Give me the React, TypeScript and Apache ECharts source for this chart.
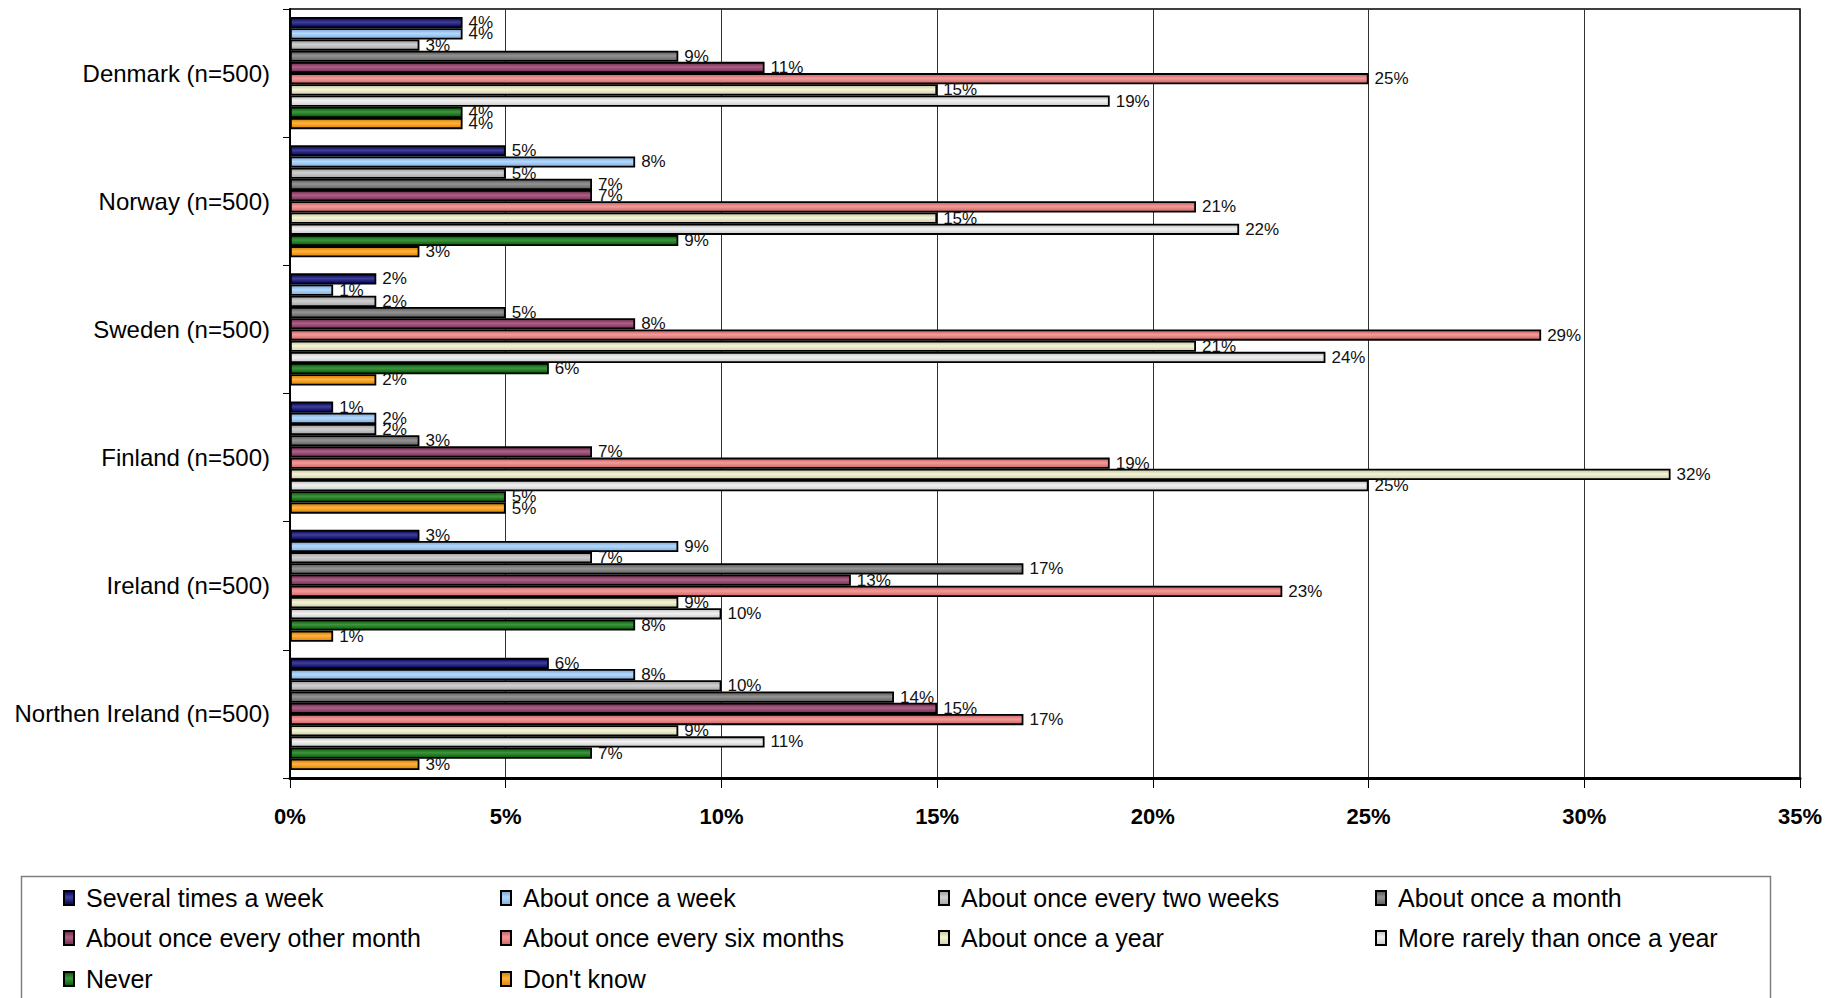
import React, { useEffect, useRef } from "react";
import * as echarts from "echarts";

const categories = [
  "Denmark (n=500)",
  "Norway (n=500)",
  "Sweden (n=500)",
  "Finland (n=500)",
  "Ireland (n=500)",
  "Northen Ireland (n=500)",
];

const seriesNames = [
  "Several times a week",
  "About once a week",
  "About once every two weeks",
  "About once a month",
  "About once every other month",
  "About once every six months",
  "About once a year",
  "More rarely than once a year",
  "Never",
  "Don't know",
];

const severalTimesAWeek = [4, 5, 2, 1, 3, 6];
const aboutOnceAWeek = [4, 8, 1, 2, 9, 8];
const aboutOnceEveryTwoWeeks = [3, 5, 2, 2, 7, 10];
const aboutOnceAMonth = [9, 7, 5, 3, 17, 14];
const aboutOnceEveryOtherMonth = [11, 7, 8, 7, 13, 15];
const aboutOnceEverySixMonths = [25, 21, 29, 19, 23, 17];
const aboutOnceAYear = [15, 15, 21, 32, 9, 9];
const moreRarelyThanOnceAYear = [19, 22, 24, 25, 10, 11];
const never = [4, 9, 6, 5, 8, 7];
const dontKnow = [4, 3, 2, 5, 1, 3];

const seriesValues = [
  severalTimesAWeek,
  aboutOnceAWeek,
  aboutOnceEveryTwoWeeks,
  aboutOnceAMonth,
  aboutOnceEveryOtherMonth,
  aboutOnceEverySixMonths,
  aboutOnceAYear,
  moreRarelyThanOnceAYear,
  never,
  dontKnow,
];

const colors = [
  "#000070",
  "#99CCFF",
  "#C0C0C0",
  "#707070",
  "#8E2F5E",
  "#F07878",
  "#F2F2C8",
  "#EEEEEE",
  "#007000",
  "#FF9900",
];

const xTicks = [0, 5, 10, 15, 20, 25, 30, 35];

// legend grid: 4 columns, rows filled left to right
const legendLefts = [58, 495, 933, 1370];
const legendTops = [880, 920, 961];

function shade(hex: string, f: number): string {
  const n = parseInt(hex.slice(1), 16);
  let r = (n >> 16) & 255,
    g = (n >> 8) & 255,
    b = n & 255;
  if (f >= 0) {
    r = Math.round(r + (255 - r) * f);
    g = Math.round(g + (255 - g) * f);
    b = Math.round(b + (255 - b) * f);
  } else {
    r = Math.round(r * (1 + f));
    g = Math.round(g * (1 + f));
    b = Math.round(b * (1 + f));
  }
  return `rgb(${r},${g},${b})`;
}

function grad(c: string) {
  return new echarts.graphic.LinearGradient(0, 0, 0, 1, [
    { offset: 0, color: shade(c, -0.2) },
    { offset: 0.45, color: shade(c, 0.25) },
    { offset: 1, color: shade(c, -0.15) },
  ]);
}

const FONT = "'Liberation Sans Narrow', 'Arial Narrow', 'Liberation Sans', Arial, sans-serif";

export default function App() {
  const ref = useRef<HTMLDivElement>(null);
  useEffect(() => {
    if (!ref.current) return;
    const chart = echarts.init(ref.current, null, { renderer: "svg" });
    const series = seriesNames.map((name, i) => ({
      name,
      type: "bar",
      data: seriesValues[i],
      barGap: "0%",
      barCategoryGap: "12.5%",
      itemStyle: { color: grad(colors[i]), borderColor: "#000", borderWidth: 1.8 },
      label: {
        show: true,
        position: "right",
        distance: 6,
        formatter: "{c}%",
        fontFamily: FONT,
        fontSize: 17,
        color: "#111",
      },
    }));
    const legends = seriesNames.map((name, i) => ({
      orient: "horizontal",
      left: legendLefts[i % 4],
      top: legendTops[Math.floor(i / 4)],
      itemWidth: 10,
      itemHeight: 14,
      icon: "rect",
      selectedMode: false,
      data: [name],
      textStyle: {
        fontFamily: FONT,
        fontSize: 25,
        lineHeight: 26,
        color: "#000",
        padding: [0, 0, 0, 7],
      },
    }));
    chart.setOption({
      animation: false,
      backgroundColor: "#fff",
      grid: {
        left: 290,
        right: 27,
        top: 9,
        bottom: 220,
        show: true,
        borderColor: "#000",
        borderWidth: 1.5,
      },
      legend: legends,
      xAxis: {
        type: "value",
        min: 0,
        max: 35,
        interval: 5,
        axisLine: { show: true, lineStyle: { color: "#000", width: 3 } },
        axisTick: { show: true, length: 10, lineStyle: { color: "#000", width: 1 } },
        splitLine: { show: true, lineStyle: { color: "#333", width: 1 } },
        axisLabel: {
          margin: 27,
          formatter: (v: number) => (xTicks.includes(v) ? v + "%" : ""),
          fontFamily: FONT,
          fontSize: 22,
          fontWeight: "bold",
          color: "#000",
        },
      },
      yAxis: {
        type: "category",
        data: categories,
        inverse: true,
        axisLine: { show: true, lineStyle: { color: "#000", width: 2 } },
        axisTick: { show: true, length: 7, lineStyle: { color: "#000" } },
        axisLabel: {
          margin: 20,
          fontFamily: FONT,
          fontSize: 24,
          color: "#000",
        },
      },
      graphic: [
        {
          type: "rect",
          left: 19,
          top: 874,
          shape: { width: 1749, height: 140 },
          style: { fill: "none", stroke: "#808080", lineWidth: 1.5 },
          silent: true,
        },
      ],
      series,
    });
    return () => chart.dispose();
  }, []);
  return (
    <div
      ref={ref}
      style={{ position: "fixed", left: 0, top: 0, width: 1827, height: 998, background: "#fff" }}
    />
  );
}
